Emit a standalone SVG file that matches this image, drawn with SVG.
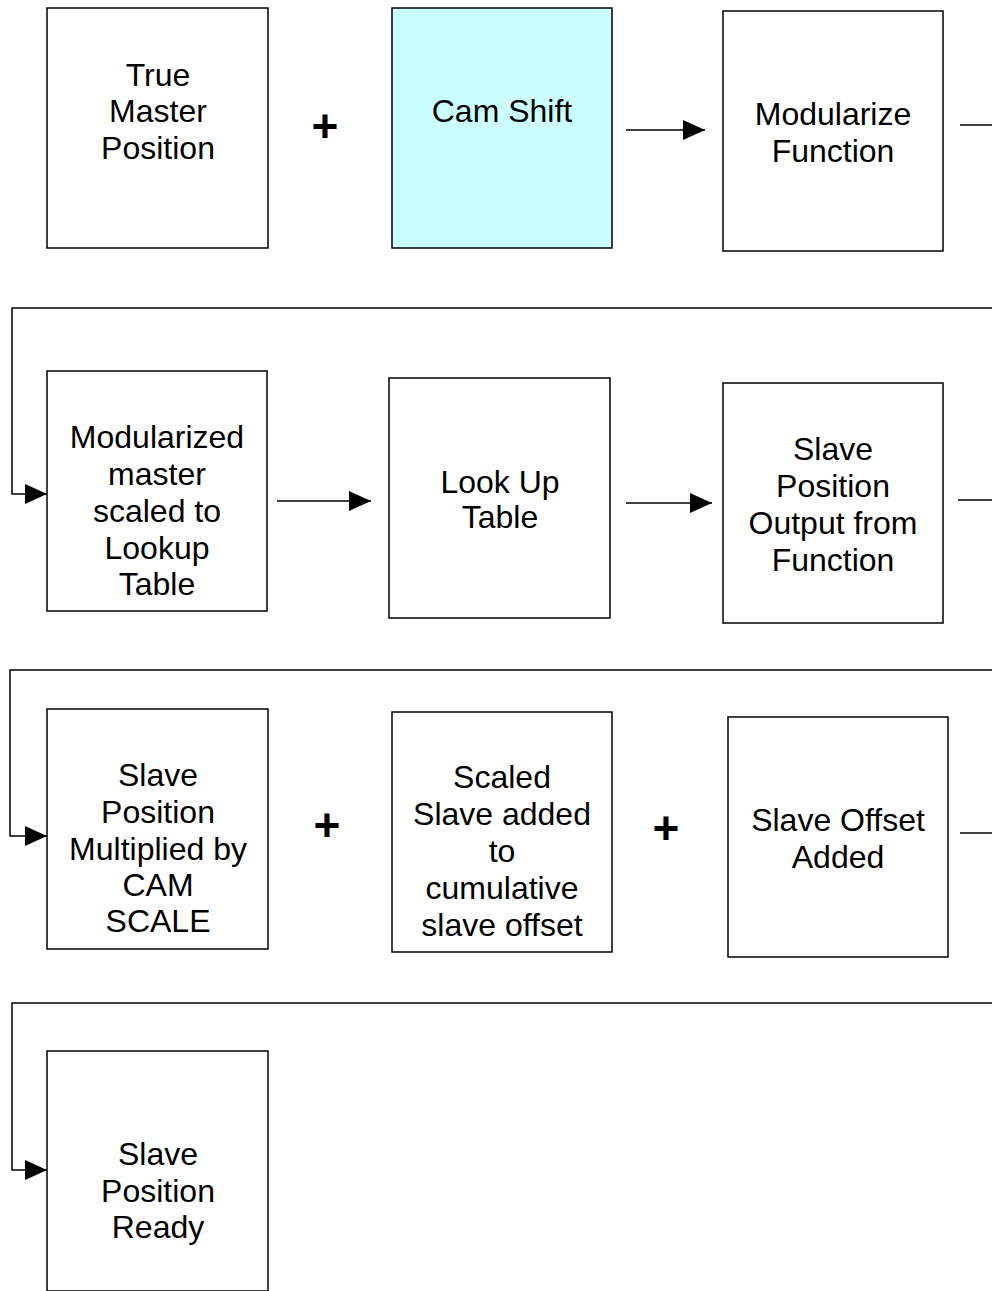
<svg xmlns="http://www.w3.org/2000/svg" width="992" height="1291" viewBox="0 0 992 1291">
<style>
.box{fill:#fff;stroke:#000;stroke-width:1.5}
.t{font-family:"Liberation Sans",Arial,sans-serif;font-size:32px;text-anchor:middle;fill:#000}
.plus{font-family:"Liberation Sans",Arial,sans-serif;font-size:46px;font-weight:bold;text-anchor:middle;fill:#000}
.ln{fill:none;stroke:#000;stroke-width:1.5}
</style>
<defs>
<marker id="ah2" viewBox="0 0 22 20" refX="22" refY="10" markerWidth="22" markerHeight="20" orient="auto" markerUnits="userSpaceOnUse">
<path d="M0,0 L22,10 L0,20 Z" fill="#000"/>
</marker>
</defs>
<g id="connectors">
<line class="ln" x1="626" y1="130" x2="705" y2="130" marker-end="url(#ah2)"/>
<line class="ln" x1="960" y1="125" x2="992" y2="125"/>
<polyline class="ln" points="992,308 12,308 12,494 47,494" marker-end="url(#ah2)"/>
<line class="ln" x1="277" y1="501" x2="371" y2="501" marker-end="url(#ah2)"/>
<line class="ln" x1="626" y1="503" x2="712" y2="503" marker-end="url(#ah2)"/>
<line class="ln" x1="958" y1="500" x2="992" y2="500"/>
<polyline class="ln" points="992,670 10,670 10,836 47,836" marker-end="url(#ah2)"/>
<line class="ln" x1="960" y1="833" x2="992" y2="833"/>
<polyline class="ln" points="992,1003 12,1003 12,1170 47,1170" marker-end="url(#ah2)"/>
</g>
<g id="n1"><rect class="box" x="47" y="8" width="221" height="240"/>
<text class="t" x="158" y="86">True</text><text class="t" x="158" y="122">Master</text><text class="t" x="158" y="159">Position</text></g>
<g id="plus1"><text class="plus" x="325" y="142">+</text></g>
<g id="n2"><rect class="box" x="392" y="8" width="220" height="240" style="fill:#ccffff"/>
<text class="t" x="502" y="122">Cam Shift</text></g>
<g id="n3"><rect class="box" x="723" y="11" width="220" height="240"/>
<text class="t" x="833" y="125">Modularize</text><text class="t" x="833" y="162">Function</text></g>
<g id="n4"><rect class="box" x="47" y="371" width="220" height="240"/>
<text class="t" x="157" y="448">Modularized</text><text class="t" x="157" y="485">master</text><text class="t" x="157" y="522">scaled to</text><text class="t" x="157" y="559">Lookup</text><text class="t" x="157" y="595">Table</text></g>
<g id="n5"><rect class="box" x="389" y="378" width="221" height="240"/>
<text class="t" x="500" y="493">Look Up</text><text class="t" x="500" y="528">Table</text></g>
<g id="n6"><rect class="box" x="723" y="383" width="220" height="240"/>
<text class="t" x="833" y="460">Slave</text><text class="t" x="833" y="497">Position</text><text class="t" x="833" y="534">Output from</text><text class="t" x="833" y="571">Function</text></g>
<g id="n7"><rect class="box" x="47" y="709" width="221" height="240"/>
<text class="t" x="158" y="786">Slave</text><text class="t" x="158" y="823">Position</text><text class="t" x="158" y="860">Multiplied by</text><text class="t" x="158" y="896">CAM</text><text class="t" x="158" y="932">SCALE</text></g>
<g id="plus2"><text class="plus" x="327" y="841">+</text></g>
<g id="n8"><rect class="box" x="392" y="712" width="220" height="240"/>
<text class="t" x="502" y="788">Scaled</text><text class="t" x="502" y="825">Slave added</text><text class="t" x="502" y="862">to</text><text class="t" x="502" y="899">cumulative</text><text class="t" x="502" y="936">slave offset</text></g>
<g id="plus3"><text class="plus" x="666" y="844">+</text></g>
<g id="n9"><rect class="box" x="728" y="717" width="220" height="240"/>
<text class="t" x="838" y="831">Slave Offset</text><text class="t" x="838" y="868">Added</text></g>
<g id="n10"><rect class="box" x="47" y="1051" width="221" height="240"/>
<text class="t" x="158" y="1165">Slave</text><text class="t" x="158" y="1202">Position</text><text class="t" x="158" y="1238">Ready</text></g>
</svg>
